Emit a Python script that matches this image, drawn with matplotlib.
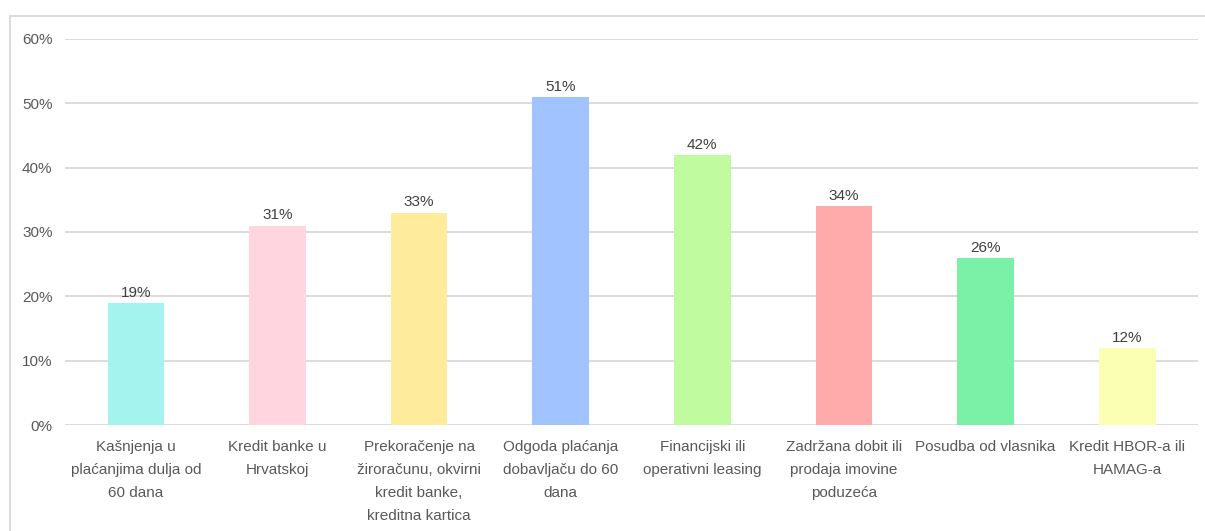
import matplotlib.pyplot as plt
from matplotlib.patches import Rectangle
from matplotlib import font_manager

names = {f.name for f in font_manager.fontManager.ttflist}
base_font = "Liberation Sans Narrow" if "Liberation Sans Narrow" in names else "Liberation Sans"
plt.rcParams["font.family"] = [base_font, "DejaVu Sans"]

categories = [
    "Kašnjenja u\nplaćanjima dulja od\n60 dana",
    "Kredit banke u\nHrvatskoj",
    "Prekoračenje na\nžiroračunu, okvirni\nkredit banke,\nkreditna kartica",
    "Odgoda plaćanja\ndobavljaču do 60\ndana",
    "Financijski ili\noperativni leasing",
    "Zadržana dobit ili\nprodaja imovine\npoduzeća",
    "Posudba od vlasnika",
    "Kredit HBOR-a ili\nHAMAG-a",
]
values = [19, 31, 33, 51, 42, 34, 26, 12]
colors = ["#A5F3EE", "#FFD5DF", "#FFEB9C", "#A1C3FF",
          "#C1FBA0", "#FFABAB", "#7BF1A8", "#FAFFB3"]
yticks = [0, 10, 20, 30, 40, 50, 60]

text_col = "#595959"
fs = 11 if base_font == "Liberation Sans" else 12

fig = plt.figure(figsize=(12.05, 5.31), dpi=100)
ax = fig.add_axes([0.054, 0.1996, 0.9402, 0.727])

x = range(len(values))
bars = ax.bar(x, values, width=0.4, color=colors, zorder=3)
for b, v in zip(bars, values):
    ax.text(b.get_x() + b.get_width() / 2, v + 0.5, f"{v}%", ha="center", va="bottom",
            fontsize=fs, color="#404040")

ax.set_xlim(-0.5, len(values) - 0.5)
ax.set_ylim(0, 60)
ax.set_yticks(yticks)
ax.set_yticklabels([f"{t}%" for t in yticks], fontsize=fs, color=text_col)
ax.set_xticks(list(x))
ax.set_xticklabels(categories, fontsize=fs, color=text_col, linespacing=1.8, va="top")
ax.tick_params(axis="both", length=0)
ax.tick_params(axis="x", pad=11)
ax.tick_params(axis="y", pad=9)

ax.yaxis.grid(True, color="#D9D9D9", linewidth=1.3, zorder=0)
for s in ax.spines.values():
    s.set_visible(False)

# outer chart border (only left and top visible in the crop)
fig.patches.append(Rectangle((10 / 1205, -0.05), 1.1, 1 - 16 / 531 + 0.05,
                             transform=fig.transFigure, fill=False,
                             edgecolor="#D9D9D9", linewidth=1.3))

fig.savefig("out.png", dpi=100)
